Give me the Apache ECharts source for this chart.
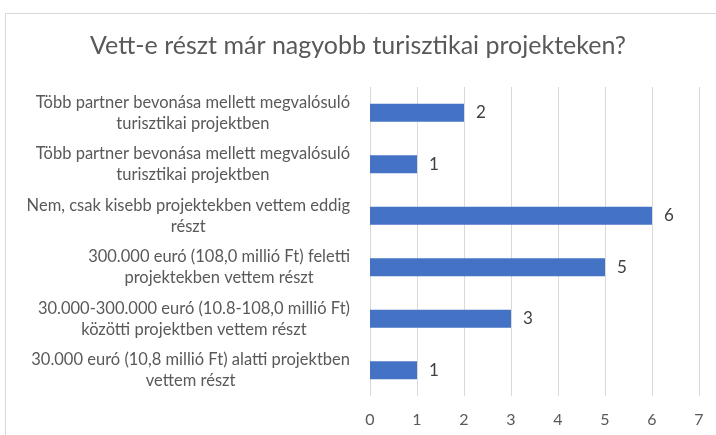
<!DOCTYPE html>
<html>
<head>
<meta charset="utf-8">
<script src="https://cdn.jsdelivr.net/npm/echarts@6/dist/echarts.min.js"></script>
<style>
  html, body { margin: 0; padding: 0; background: #fff; }
  #chart { width: 716px; height: 435px; }
</style>
</head>
<body>
<div id="chart"></div>
<script>
// kategóriák (fentről lefelé)
const categories = [
  ['Több partner bevonása mellett megvalósuló', 'turisztikai projektben'],
  ['Több partner bevonása mellett megvalósuló', 'turisztikai projektben'],
  ['Nem, csak kisebb projektekben vettem eddig', 'részt'],
  ['300.000 euró (108,0 millió Ft) feletti', 'projektekben vettem részt'],
  ['30.000-300.000 euró (10.8-108,0 millió Ft)', 'közötti projektben vettem részt'],
  ['30.000 euró (10,8 millió Ft) alatti projektben', 'vettem részt']
]
const values = [2, 1, 6, 5, 3, 1]
const xTicks = [0, 1, 2, 3, 4, 5, 6, 7]

const font = 'Lato, "Open Sans", sans-serif'
const chart = echarts.init(document.getElementById('chart'))

const option = {
  backgroundColor: '#fff',
  animation: false,
  title: {
    text: 'Vett-e részt már nagyobb turisztikai projekteken?',
    left: 'center',
    top: 28,
    padding: [5, 0, 5, 18],
    textStyle: { fontFamily: font, fontSize: 25, fontWeight: 'normal', color: '#595959' }
  },
  graphic: [{
    type: 'rect',
    shape: { x: 5.5, y: 13.5, width: 720, height: 440 },
    style: { fill: 'none', stroke: '#d9d9d9', lineWidth: 1 },
    silent: true
  }],
  grid: { left: 370, right: 17, top: 87, bottom: 39 },
  xAxis: {
    type: 'value',
    min: xTicks[0],
    max: xTicks[xTicks.length - 1],
    interval: 1,
    axisLine: { show: false },
    axisTick: { show: false },
    axisLabel: { fontFamily: font, fontSize: 16, color: '#595959', margin: 16 },
    splitLine: { lineStyle: { color: '#d9d9d9', width: 1 } }
  },
  yAxis: {
    type: 'category',
    inverse: true,
    data: categories.map(c => c.join('\n')),
    axisLine: { show: false },
    axisTick: { show: false },
    axisLabel: {
      margin: 20,
      align: 'right',
      formatter: v => v.split('\n').map(l => '{c|' + l + '}').join('\n'),
      rich: {
        c: { fontFamily: font, fontSize: 16.5, color: '#595959', align: 'center', lineHeight: 21 }
      }
    }
  },
  series: [{
    type: 'bar',
    data: values,
    barWidth: 18,
    itemStyle: { color: '#4472C4' },
    label: {
      show: true,
      position: 'right',
      distance: 12,
      fontFamily: font,
      fontSize: 17,
      color: '#404040'
    }
  }]
}
chart.setOption(option)
</script>
</body>
</html>
